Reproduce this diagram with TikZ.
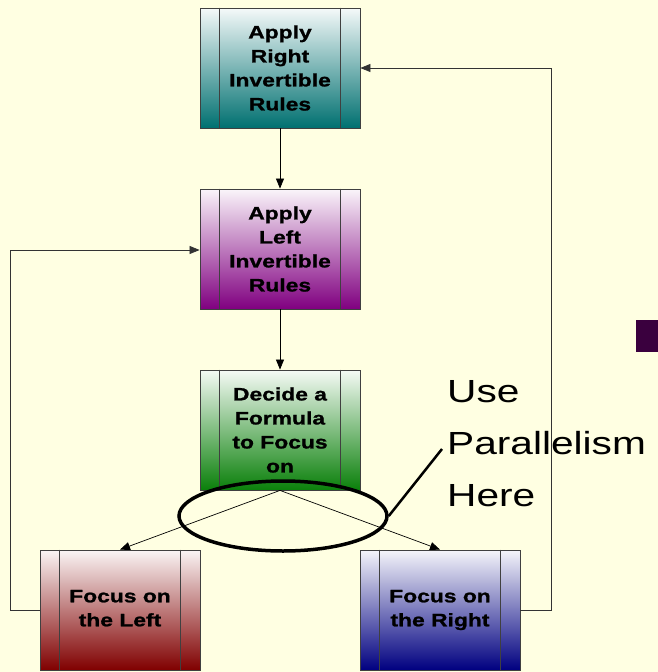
\documentclass[tikz,border=0pt]{standalone}
\usepackage{fontspec}
\newfontfamily\wide[FakeStretch=1.27, BoldFeatures={FakeBold=1.2}]{Liberation Sans}
\usetikzlibrary{arrows.meta,shapes.geometric}
\definecolor{bgc}{RGB}{255,255,226}
\definecolor{cteal}{RGB}{0,112,112}
\definecolor{cpurple}{RGB}{128,0,128}
\definecolor{cgreen}{RGB}{10,128,10}
\definecolor{cred}{RGB}{128,0,0}
\definecolor{cblue}{RGB}{0,0,128}
\definecolor{bullet}{RGB}{58,0,62}
\begin{document}
\begin{tikzpicture}[x=1pt,y=-1pt,
  box/.style={draw=black!75, line width=0.8pt, minimum width=160pt, minimum height=120pt,
    inner sep=0pt, shading=axis, bottom color=#1, top color=white!96!#1, align=center,
    font=\wide\bfseries\fontsize{18}{24}\selectfont},
  conn/.style={draw=black, line width=0.7pt, -{Triangle[length=10pt,width=8pt]}},
  loopline/.style={draw=black!80, line width=0.7pt, -{Triangle[length=10pt,width=8pt]}}]
\fill[bgc] (0,0) rectangle (658,672);
\useasboundingbox (0,0) rectangle (658,672);
\fill[bullet] (636,320) rectangle (658,352);

\node[box=cteal]   (b1) at (280,68)  {Apply\\Right\\Invertible\\Rules};
\node[box=cpurple] (b2) at (280,249) {Apply\\Left\\Invertible\\Rules};
\node[box=cgreen]  (b3) at (280,430) {Decide a\\Formula\\to Focus\\on};
\node[box=cred]    (b4) at (120,610) {Focus on\\the Left\vphantom{g}};
\node[box=cblue]   (b5) at (440,610) {Focus on\\the Right};
\foreach \n in {b1,b2,b3,b4,b5}{
  \draw[black!75, line width=0.8pt] ([xshift=20pt]\n.north west) -- ([xshift=20pt]\n.south west);
  \draw[black!75, line width=0.8pt] ([xshift=-20pt]\n.north east) -- ([xshift=-20pt]\n.south east);
}

\draw[conn] (b1.south) -- (b2.north);
\draw[conn] (b2.south) -- (b3.north);
\draw[conn] (b3.south) -- (b4.north);
\draw[conn] (b3.south) -- (b5.north);
\draw[loopline] (b4.west) -- (10,610) -- (10,250) -- (b2.west |- 0,250);
\draw[loopline] (b5.east) -- (551,610) -- (551,68) -- (b1.east |- 0,68);

\node[draw=black, line width=3.5pt, ellipse, minimum width=208pt, minimum height=70pt, inner sep=0pt] (e) at (283,516) {};
\coordinate (ce) at (442,449);
\draw[black, line width=2.5pt] (e.east) -- (ce);
\node[anchor=north west, inner sep=0pt, align=left, font=\wide\fontsize{32}{52}\selectfont] (t) at (447,380) {Use\\Parallelism\\Here};
\end{tikzpicture}
\end{document}
